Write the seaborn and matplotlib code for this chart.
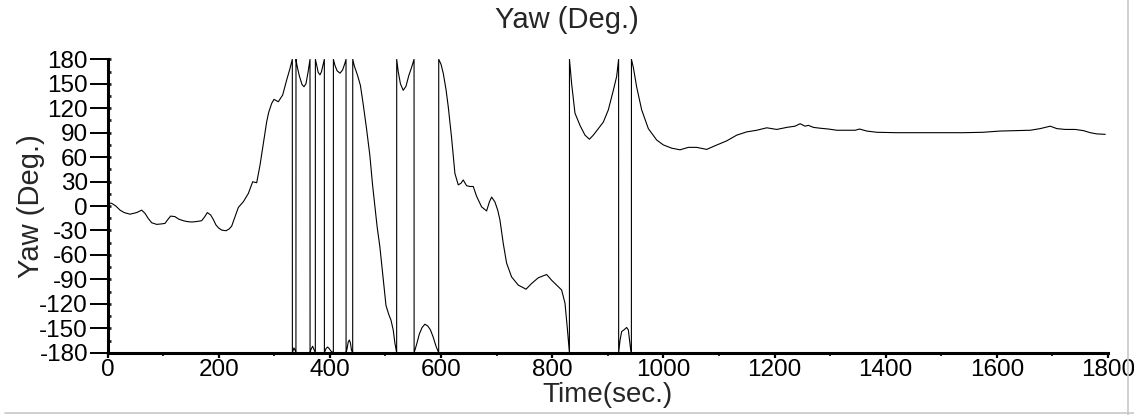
import matplotlib
matplotlib.use("Agg")
import matplotlib.pyplot as plt
from matplotlib.ticker import MultipleLocator
from matplotlib.lines import Line2D
import seaborn as sns
import pandas as pd

# Time (sec.) and wrapped yaw (deg.)
time_s = [0, 7.5, 15, 22.5, 30, 40.5, 52.5, 61.5, 67.5, 73, 79.5, 88.5, 96, 103.4, 108, 113.6,
          121.4, 128, 136.4, 143, 151.4, 160, 169.4, 175, 179.6, 185.6, 190, 195.2, 200, 205.4,
          213.2, 219, 223.4, 229.4, 235.4, 244.4, 253.4, 261.2, 268.4, 274.4, 280.4, 286.4, 290,
          295.4, 299.5, 307.3, 315.1, 322.3, 328, 332.5,
          332.6, 334, 335.5, 337.5, 339, 339.1, 341, 345, 350, 353.5, 357, 361, 364.3,
          364.4, 366, 369, 372, 373.9, 374, 376, 379, 382.3, 385, 388, 390.1,
          390.2, 393, 396, 399, 402, 406.3, 406.4, 409, 413, 418.3, 423, 427, 429.1,
          429.2, 431, 433, 435.1, 437, 439, 441.1, 441.2, 444, 450, 455, 460, 466, 472, 477,
          481, 485, 490, 496, 501, 506, 510, 514, 517, 520.2,
          520.3, 523, 527, 532, 537, 542, 547, 551.5,
          551.6, 556, 561, 566, 571, 576, 581, 586, 591, 595.8,
          595.9, 600, 604, 609, 613, 619, 625, 631, 636, 640, 646, 652, 658, 664, 673, 682, 687,
          691, 697, 702, 706, 712, 718, 727, 739, 753, 763, 775, 790, 799, 808, 817, 823, 827, 831,
          831.1, 835, 841, 850, 859, 867, 874, 883, 892, 901, 910, 916, 919.5,
          919.6, 922, 925, 929, 934, 937, 941, 942.5,
          942.6, 946, 952, 961, 973, 988, 1000, 1015, 1030, 1045, 1060, 1078, 1093, 1114, 1132,
          1150, 1168, 1186, 1204, 1222, 1237, 1246, 1255, 1261, 1270, 1282, 1297, 1312, 1330,
          1345, 1353, 1366, 1384, 1420, 1480, 1540, 1575, 1605, 1630, 1660, 1678, 1696, 1708,
          1723, 1741, 1756, 1768, 1780, 1795]

yaw_deg = [4, 3.3, 0, -5, -8, -10, -8, -5, -9, -15, -20.5, -22.5, -22, -21.3, -17, -12.3,
           -13, -16, -18, -19, -19.6, -19, -18, -13, -8, -11, -16, -23.3, -27, -29.5,
           -30.3, -28, -24.6, -13, -1.7, 5.3, 15.5, 29.8, 28.6, 50.3, 76.9, 103.5, 115,
           126, 130.9, 128, 136.2, 154.6, 168, 180,
           -180, -177, -174, -177, -180, 180, 172, 160, 149, 146.4, 150, 165, 180,
           -180, -176, -172, -177, -180, 180, 174, 164, 161, 165, 174, 180,
           -180, -175, -173, -175, -178, -180, 180, 173, 166, 163, 167, 175, 180,
           -180, -175, -167, -164.4, -168, -177, -180, 180, 172, 160, 148, 125, 95, 62, 25,
           0, -25, -50, -90, -122, -133, -140, -152, -168, -180,
           180, 165, 150, 142, 147, 160, 170, 180,
           -180, -170, -157, -149, -145, -147, -152, -161, -172, -180,
           180, 174, 163, 143, 122, 84, 40, 26, 28, 32, 25, 24, 24, 12, -1, -6, 5,
           11, 5, -5, -17, -46, -70, -87, -97, -102, -95, -88, -84, -91, -97, -103, -119, -148, -180,
           180, 150, 114, 99, 87, 82, 87, 95, 103, 118, 142, 159, 180,
           -180, -165, -154, -152, -149, -152, -175, -180,
           180, 170, 146, 118, 95, 81, 75, 71, 69, 72, 72, 69.5, 74, 80, 87,
           91, 93, 96, 94, 96.5, 98, 101, 98, 99, 96.5, 95.5, 94.5, 93, 93,
           93, 94.5, 92, 90.5, 90, 90, 90, 90.5, 92, 92.5, 93, 95, 98, 95,
           94, 94, 92.5, 90, 88.5, 88]

x_ticks = [0, 200, 400, 600, 800, 1000, 1200, 1400, 1600, 1800]
y_ticks = [-180, -150, -120, -90, -60, -30, 0, 30, 60, 90, 120, 150, 180]

df = pd.DataFrame({"Time": time_s, "Yaw": yaw_deg})

sns.set_style("ticks")
plt.rcParams["font.family"] = ["Liberation Sans", "DejaVu Sans"]

fig = plt.figure(figsize=(11.34, 4.15), dpi=100)
ax = fig.add_axes([0.0948, 0.150, 0.8823, 0.707])

sns.lineplot(data=df, x="Time", y="Yaw", ax=ax, color="black", linewidth=0.8,
             estimator=None, sort=False)

ax.set_xlim(0, 1800)
ax.set_ylim(-180, 180)
ax.set_xticks(x_ticks)
ax.set_yticks(y_ticks)
ax.set_yticklabels([str(v) for v in y_ticks])
ax.xaxis.set_minor_locator(MultipleLocator(100))
ax.yaxis.set_minor_locator(MultipleLocator(15))
ax.yaxis.remove_overlapping_locs = False

for s in ["top", "right"]:
    ax.spines[s].set_visible(False)
for s in ["left", "bottom"]:
    ax.spines[s].set_linewidth(2.2)
    ax.spines[s].set_color("black")

ax.tick_params(axis="y", which="major", direction="out", length=13, width=1.4,
               labelsize=17.5, pad=1, colors="black")
ax.tick_params(axis="y", which="minor", direction="in", length=2.5, width=2)
ax.tick_params(axis="x", which="major", direction="out", length=3.5, width=1.6,
               labelsize=17.5, pad=1, colors="black")
ax.tick_params(axis="x", which="minor", direction="out", length=2.5, width=1.4)

ax.set_xlabel("Time(sec.)", fontsize=20)
ax.set_ylabel("Yaw (Deg.)", fontsize=21)
ax.xaxis.set_label_coords(0.5, -0.098)
ax.xaxis.label.set_va("top")
ax.yaxis.set_label_coords(-0.0625, 0.5)

fig.suptitle("Yaw (Deg.)", x=0.5, y=0.985, va="top", fontsize=21)

# light grey frame at the right and bottom edges of the picture
fig.add_artist(Line2D([0.995, 0.995], [0.0, 1.0], transform=fig.transFigure,
                      color="#c8c8c8", linewidth=1.2))
fig.add_artist(Line2D([0.004, 1.0], [0.005, 0.005], transform=fig.transFigure,
                      color="#c8c8c8", linewidth=1.2))

fig.savefig("out.png", dpi=100)
